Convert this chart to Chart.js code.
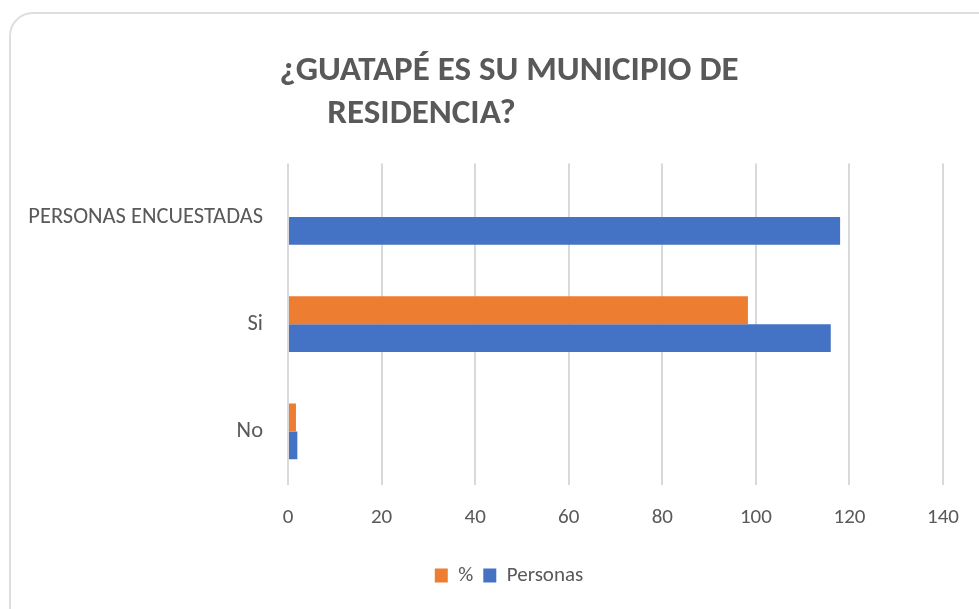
<!DOCTYPE html>
<html lang="es">
<head>
<meta charset="utf-8">
<title>¿Guatapé es su municipio de residencia?</title>
<script src="https://cdn.jsdelivr.net/npm/chart.js@4.4.1/dist/chart.umd.min.js"></script>
<style>
  html, body { margin: 0; padding: 0; background: #fff; overflow: hidden; }
  .frame {
    position: absolute; left: 9px; top: 12px; width: 995px; height: 620px;
    border: 2px solid #dedede; border-radius: 24px; box-sizing: border-box;
  }
  .wrap { position: absolute; left: 0; top: 0; width: 979px; height: 609px; }
</style>
</head>
<body>
<div class="frame"></div>
<div class="wrap"><canvas id="chart" width="979" height="609"></canvas></div>
<script>
'use strict';

// ── Data ──────────────────────────────────────────────
const CATEGORIES  = ['PERSONAS ENCUESTADAS', 'Si', 'No'];
const PORCENTAJE  = [null, 98.3, 1.7];
const PERSONAS    = [118, 116, 2];
const SERIES      = ['%', 'Personas'];
const X_MIN = 0, X_MAX = 140, X_STEP = 20;
// second line padded on the right so it sits left of centre, as in the original
const TITLE_LINES = ['¿GUATAPÉ ES SU MUNICIPIO DE', 'RESIDENCIA?' + '\u2003'.repeat(5)];

const FONT   = "Carlito, Lato, 'Liberation Sans', sans-serif";
const GREY   = '#595959';
const ORANGE = '#ED7D31';
const BLUE   = '#4472C4';

Chart.defaults.font.family = FONT;
Chart.defaults.color = GREY;

// title and legend are centred on a box that starts a bit right of the canvas edge
const BLOCK_LEFT = 71;
const centreBlocks = {
    id: 'centreBlocks',
    afterLayout(chart) {
        if (chart.titleBlock) chart.titleBlock.left = BLOCK_LEFT;
        if (chart.legend) chart.legend.left = BLOCK_LEFT;
    }
};

new Chart(document.getElementById('chart').getContext('2d'), {
    type: 'bar',
    data: {
        labels: CATEGORIES,
        datasets: [
            { label: SERIES[0], data: PORCENTAJE, backgroundColor: ORANGE, borderWidth: 0 },
            { label: SERIES[1], data: PERSONAS,   backgroundColor: BLUE,   borderWidth: 0 },
        ]
    },
    plugins: [centreBlocks],
    options: {
        responsive: false,
        animation: false,
        indexAxis: 'y',
        categoryPercentage: 0.52,
        barPercentage: 1,
        layout: { padding: { left: 0, right: 32, top: 0, bottom: 13 } },
        plugins: {
            title: {
                display: true,
                text: TITLE_LINES,
                color: GREY,
                font: { size: 35, weight: 'bold', lineHeight: 1.22 },
                padding: { top: 50, bottom: 28 }
            },
            legend: {
                position: 'bottom',
                labels: { boxWidth: 13, boxHeight: 14, padding: 10, color: GREY, font: { size: 21 } }
            },
            tooltip: { enabled: false }
        },
        scales: {
            x: {
                min: X_MIN, max: X_MAX,
                ticks: { stepSize: X_STEP, padding: 20, color: GREY, font: { size: 21 } },
                grid: { color: '#d9d9d9', lineWidth: 2, drawTicks: false },
                border: { display: false },
                afterFit: s => { s.height = 70; }
            },
            y: {
                ticks: { padding: 25, color: GREY, font: { size: 22.5 } },
                grid: { display: false, drawTicks: false },
                border: { display: false },
                afterFit: s => { s.width = 288; }
            }
        }
    }
});
</script>
</body>
</html>
